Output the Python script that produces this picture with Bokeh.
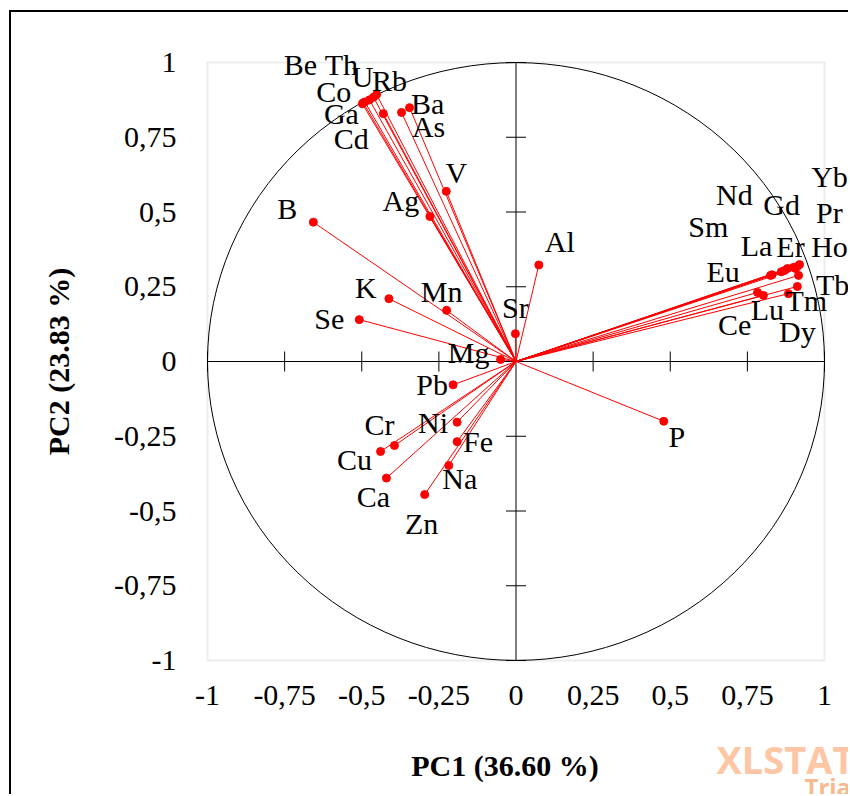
from bokeh.plotting import figure
from bokeh.models import ColumnDataSource, FixedTicker, Label, LabelSet, BoxAnnotation
from bokeh.embed import file_html
from bokeh.resources import INLINE

# ---- data: variable loadings on PC1 / PC2 ----
variables = ["Be", "Co", "Ga", "Th", "U", "Rb", "Cd", "As", "Ba", "V", "Ag",
             "B", "K", "Se", "Mn", "Sr", "Mg", "Al", "P",
             "Pb", "Ni", "Fe", "Na", "Cr", "Cu", "Ca", "Zn",
             "Yb", "Pr", "Ho", "Gd", "Er", "Nd", "Sm", "La", "Eu", "Tb", "Tm", "Dy", "Lu", "Ce"]
pc1 = [-0.495, -0.490, -0.498, -0.475, -0.462, -0.452, -0.430, -0.371, -0.345, -0.226, -0.279,
       -0.657, -0.412, -0.508, -0.225, -0.002, -0.050, 0.074, 0.479,
       -0.204, -0.191, -0.191, -0.218, -0.394, -0.439, -0.420, -0.296,
       0.919, 0.912, 0.906, 0.900, 0.880, 0.870, 0.860, 0.825, 0.830, 0.916, 0.912, 0.883, 0.802, 0.783]
pc2 = [0.865, 0.868, 0.862, 0.875, 0.884, 0.893, 0.829, 0.833, 0.849, 0.569, 0.485,
       0.466, 0.210, 0.140, 0.171, 0.093, 0.007, 0.323, -0.200,
       -0.078, -0.203, -0.268, -0.348, -0.281, -0.301, -0.390, -0.445,
       0.324, 0.318, 0.311, 0.315, 0.311, 0.304, 0.300, 0.288, 0.290, 0.288, 0.251, 0.227, 0.221, 0.231]

# label placement offsets (pixels, right / down)
label_dx = [-63, -31, -21, -28, -11, 13, -32, 27, 18, 10, -29,
            -26, -23, -30, -5, 0, -32, 21, 13,
            -21, -24, 21, 11, -15, -26, -13, -3,
            30, 32, 34, -12, 3, -50, -73, -14, -49, 34, 9, 9, 4, -23]
label_dy = [-38, -10, 10, -35, -21, -14, 25, 14, -4, -19, -16,
            -14, -11, -1, -19, -26, -7, -23, 15,
            0, 0, 0, 13, -21, 8, 18, 29,
            -88, -54, -22, -63, -22, -76, -45, -30, -3, 9, 14, 38, 14, 32]

tick_values = [-1, -0.75, -0.5, -0.25, 0, 0.25, 0.5, 0.75, 1]
tick_labels = ["-1", "-0,75", "-0,5", "-0,25", "0", "0,25", "0,5", "0,75", "1"]
axis_ticks = [t for t in tick_values if t != 0]

x_title = "PC1 (36.60 %)"
y_title = "PC2 (23.83 %)"

SERIF = "Liberation Serif"

# ---- layout (pixels) ----
W, H = 839, 784              # canvas size
FRAME_L, FRAME_R = 196, 813  # canvas x of -1 and +1
FRAME_T, FRAME_B = 50, 648   # canvas y of +1 and -1
lo, hi = tick_values[0], tick_values[-1]
sx = (FRAME_R - FRAME_L) / (hi - lo)
sy = (FRAME_B - FRAME_T) / (hi - lo)
x_range = (lo - FRAME_L / sx, hi + (W - FRAME_R) / sx)
y_range = (lo - (H - FRAME_B) / sy, hi + FRAME_T / sy)

src = ColumnDataSource(dict(
    name=variables, x=pc1, y=pc2,
    x0=[0.0] * len(pc1), y0=[0.0] * len(pc2),
    dx=label_dx, dy=[-d for d in label_dy],
))

p = figure(width=W, height=H, x_range=x_range, y_range=y_range,
           output_backend="svg", toolbar_location=None,
           min_border_left=0, min_border_right=0, min_border_top=0, min_border_bottom=0,
           x_axis_label=x_title, y_axis_label=y_title)
p.styles = {"border-left": "2px solid black", "border-top": "2px solid black"}
p.margin = (10, 0, 0, 9)
p.grid.visible = False
p.outline_line_color = None
p.background_fill_color = "white"
p.border_fill_color = "white"

for ax in (p.xaxis[0], p.yaxis[0]):
    ax.fixed_location = lo
    ax.ticker = FixedTicker(ticks=tick_values)
    ax.major_label_overrides = dict(zip(tick_values, tick_labels))
    ax.axis_line_color = None
    ax.major_tick_line_color = None
    ax.minor_tick_line_color = None
    ax.major_tick_out = 0
    ax.major_tick_in = 0
    ax.minor_tick_out = 0
    ax.major_label_text_font = SERIF
    ax.major_label_text_font_size = "30px"
    ax.major_label_text_color = "black"
    ax.axis_label_text_font = SERIF
    ax.axis_label_text_font_style = "bold"
    ax.axis_label_text_font_size = "30px"
    ax.axis_label_text_color = "black"
p.yaxis[0].bounds = (lo, hi)
p.xaxis[0].bounds = (lo - 0.07, hi)
p.yaxis[0].major_label_standoff = 31
p.yaxis[0].axis_label_standoff = 36
p.xaxis[0].major_label_standoff = 25
p.xaxis[0].axis_label_standoff = 41

# plot-area frame (grey box around [-1, 1] x [-1, 1])
p.add_layout(BoxAnnotation(left=lo, right=hi, bottom=lo, top=hi, fill_alpha=0,
                           line_color="#c0c0c0", line_width=2, level="underlay"))

# correlation circle
p.ellipse(x=0, y=0, width=hi - lo, height=hi - lo, fill_color=None,
          line_color="black", line_width=1)
# axes through the origin, with crossing tick marks
p.segment(x0=[lo, 0], y0=[0, lo], x1=[hi, 0], y1=[0, hi], line_color="black", line_width=1)
p.scatter(x=[0] * len(axis_ticks), y=axis_ticks, marker="dash", size=20,
          line_color="black", line_width=1)
p.scatter(x=axis_ticks, y=[0] * len(axis_ticks), marker="dash", size=20, angle=1.5707963,
          line_color="black", line_width=1)

# loading vectors
p.segment(x0="x0", y0="y0", x1="x", y1="y", source=src, line_color="#ff0000", line_width=1)
p.scatter(x="x", y="y", source=src, size=8, fill_color="#ff0000", line_color="#ff0000")

labels = LabelSet(x="x", y="y", text="name", source=src, x_offset="dx", y_offset="dy",
                  text_font=SERIF, text_font_size="30px", text_color="black",
                  text_align="center", text_baseline="middle")
p.add_layout(labels)

# trial watermark (bottom right)
def px_to_x(px):
    return x_range[0] + (px - 11) / sx

def px_to_y(py):
    return y_range[1] - (py - 12) / sy

p.add_layout(Label(x=px_to_x(716), y=px_to_y(758), text="XLSTAT",
                   text_font="Open Sans", text_font_style="bold", text_font_size="38px",
                   text_color="#fdc6a4", text_baseline="alphabetic", text_align="left"))
p.add_layout(Label(x=px_to_x(804), y=px_to_y(786), text="Trial",
                   text_font="Open Sans", text_font_style="bold", text_font_size="24px",
                   text_color="#f8b890", text_baseline="alphabetic", text_align="left"))

open("out.html", "w").write(file_html(p, INLINE))
